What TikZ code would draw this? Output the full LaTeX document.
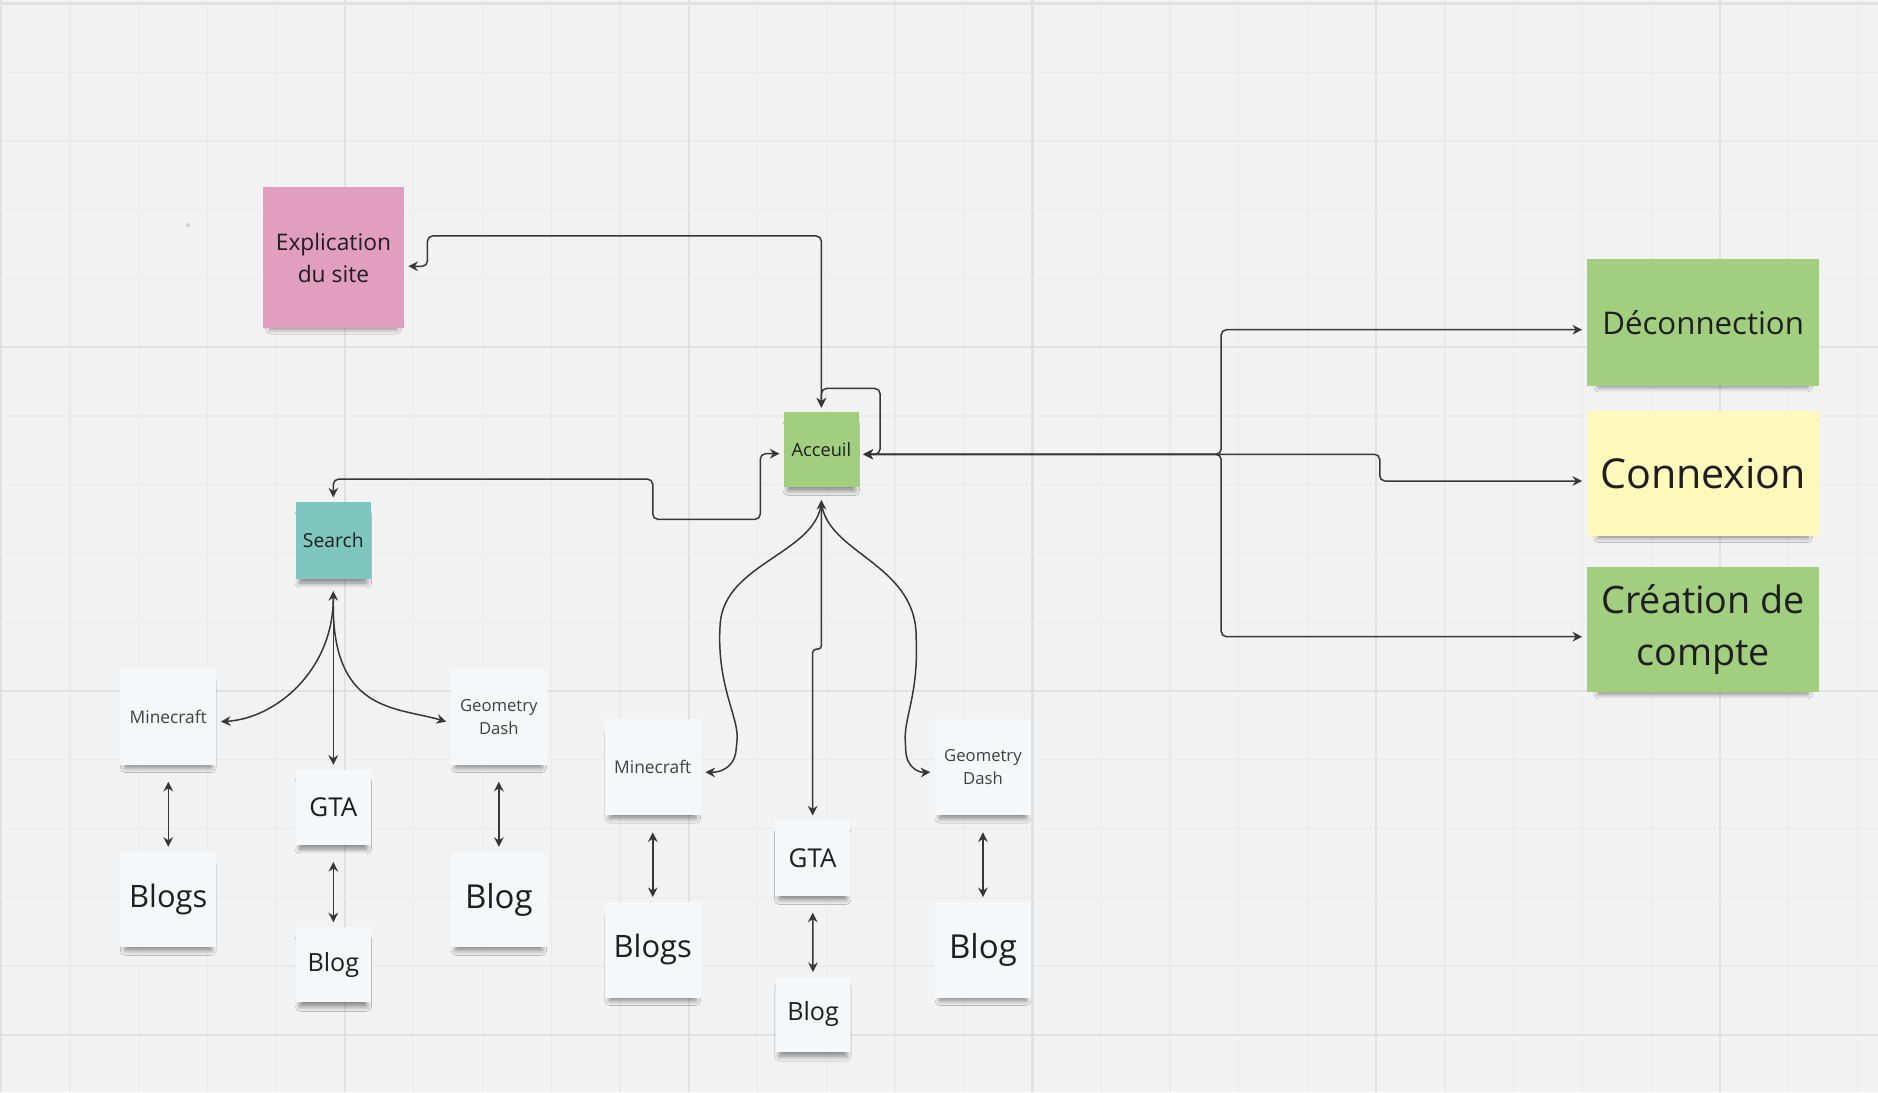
\documentclass[tikz,border=0pt]{standalone}
\usepackage{fontspec}
\setmainfont{Open Sans}
\usetikzlibrary{arrows.meta,calc,shadows.blur}
\definecolor{bgcol}{RGB}{242,242,242}
\definecolor{gridminor}{RGB}{234,234,234}
\definecolor{gridmajor}{RGB}{225,225,225}
\definecolor{linecol}{RGB}{55,55,55}
\definecolor{ink}{RGB}{30,30,30}
\definecolor{notepink}{RGB}{225,158,191}
\definecolor{notegreen}{RGB}{162,207,127}
\definecolor{noteteal}{RGB}{127,198,191}
\definecolor{noteyellow}{RGB}{255,248,187}
\definecolor{notewhite}{RGB}{246,247,249}

\begin{document}
\begin{tikzpicture}[x=0.024cm,y=-0.024cm]
        \tikzstyle{note}=[rectangle, inner sep=0pt, outer sep=2.7pt, align=center, text=ink,
          blur shadow={shadow xshift=0pt, shadow yshift=-5pt, shadow scale=0.9, shadow opacity=45, shadow blur radius=3pt, shadow blur steps=8}]
        \tikzstyle{bignote}=[note, fill=notewhite, minimum width=1.92cm, minimum height=1.92cm]
        \tikzstyle{smallnote}=[note, fill=notewhite, minimum width=1.49cm, minimum height=1.51cm]
        \tikzstyle{link}=[draw=linecol, line width=0.85pt, rounded corners=3pt]
        \tikzstyle{arr}=[link, -{Stealth[length=5.5pt,width=5.5pt]}]
        \tikzstyle{dbl}=[link, {Stealth[length=5.5pt,width=5.5pt]}-{Stealth[length=5.5pt,width=5.5pt]}]
        \tikzstyle{vpair}=[dbl, shorten <=7pt]

        \useasboundingbox (0,0) rectangle (1568,912);
        \fill[bgcol] (0,0) rectangle (1568,912);
        \foreach \i in {0,...,27} \draw[gridminor, line width=0.7pt] ({1+57.4*\i},0) -- ({1+57.4*\i},912);
        \foreach \j in {0,...,15} \draw[gridminor, line width=0.7pt] (0,{3+57.4*\j}) -- (1568,{3+57.4*\j});
        \foreach \i in {0,...,5} \draw[gridmajor, line width=1.3pt] ({1+287*\i},0) -- ({1+287*\i},912);
        \foreach \j in {0,...,3} \draw[gridmajor, line width=1.3pt] (0,{3+287*\j}) -- (1568,{3+287*\j});
        \fill[gray!35] (157,188) circle (1.2pt);

        \node[note, fill=notepink, minimum width=2.81cm, minimum height=2.83cm, font=\fontsize{13}{17.8}\selectfont] (exp) at (278.4,215.3) {Explication\\du site};
        \node[note, fill=notegreen, minimum width=1.49cm, minimum height=1.49cm, font=\fontsize{10.4}{13}\selectfont] (acc) at (685.8,375.3) {Acceuil};
        \node[note, fill=noteteal, minimum width=1.49cm, minimum height=1.54cm, font=\fontsize{11}{13}\selectfont] (sea) at (278.3,451.4) {Search};
        \node[note, fill=notegreen, minimum width=4.66cm, minimum height=2.53cm, font=\fontsize{17.8}{22}\selectfont] (dec) at (1422,269.3) {Déconnection};
        \node[note, fill=noteyellow, minimum width=4.66cm, minimum height=2.5cm, font=\fontsize{23.5}{28}\selectfont] (con) at (1422,395.6) {Connexion};
        \node[note, fill=notegreen, minimum width=4.66cm, minimum height=2.52cm, font=\fontsize{21.5}{29.4}\selectfont] (cre) at (1422,525.6) {Création de\\compte};

        \node[bignote, text=ink!85, font=\fontsize{9.9}{12}\selectfont] (mc1) at (140.5,598.5) {Minecraft};
        \node[smallnote, font=\fontsize{14.8}{18}\selectfont] (gta1) at (278.3,674) {GTA};
        \node[bignote, text=ink!85, font=\fontsize{9.5}{13}\selectfont] (gd1) at (416.5,598.5) {Geometry\\Dash};
        \node[bignote, font=\fontsize{17.6}{21}\selectfont] (bl1) at (140.5,751) {Blogs};
        \node[bignote, font=\fontsize{18.8}{22}\selectfont] (bl2) at (416.5,751) {Blog};
        \node[smallnote, font=\fontsize{14.3}{17}\selectfont] (bl3) at (278.3,805.5) {Blog};

        \node[bignote, text=ink!85, font=\fontsize{9.9}{12}\selectfont] (mc2) at (545,640.7) {Minecraft};
        \node[smallnote, font=\fontsize{14.8}{18}\selectfont] (gta2) at (678.5,716.3) {GTA};
        \node[bignote, text=ink!85, font=\fontsize{9.5}{13}\selectfont] (gd2) at (820.7,640.7) {Geometry\\Dash};
        \node[bignote, font=\fontsize{17.6}{21}\selectfont] (bl4) at (545,793) {Blogs};
        \node[smallnote, font=\fontsize{14.3}{17}\selectfont] (bl5) at (678.8,847) {Blog};
        \node[bignote, font=\fontsize{18.8}{22}\selectfont] (bl6) at (820.7,793) {Blog};

        \draw[dbl] ($(exp.east)+(0,7)$) -- ++(16,0) |- (acc.north |- 0,197) -- (acc.north);
        \draw[dbl] ($(acc.east)+(0,4)$) -- ++(14,0) |- ($(acc.north)+(0,-16)$) -- (acc.north);
        \draw[dbl] ($(acc.west)+(0,3.5)$) -- ++(-16,0) |- (545,433.6) |- (sea.north |- 0,400) -- (sea.north);
        \draw[dbl] ($(acc.east)+(0,4)$) -- (1019.6,379.3) |- ($(dec.west)+(0,6)$);
        \draw[dbl] ($(acc.east)+(0,4)$) -- (1152,379.3) |- ($(con.west)+(0,6)$);
        \draw[dbl] ($(acc.east)+(0,4)$) -- (1019.6,379.3) |- ($(cre.west)+(0,6)$);

        \draw[dbl, rounded corners=2pt] ($(acc.south)+(0,7)$) |- (gta2.north |- 0,542) -- (gta2.north);
        \draw[arr] ($(acc.south)+(0,9)$) .. controls (682,462) and (605,470) .. (601,525)
          .. controls (600,575) and (617,600) .. (615,622) .. controls (613,642) and (600,645) .. ($(mc2.east)+(0,4)$);
        \draw[arr] ($(acc.south)+(0,9)$) .. controls (690,462) and (764,470) .. (765,535)
          .. controls (766,580) and (755,600) .. (756,622) .. controls (757,642) and (768,645) .. ($(gd2.west)+(0,4)$);

        \draw[dbl] ($(sea.south)+(0,6)$) -- (gta1.north);
        \draw[arr] ($(sea.south)+(0,12)$) .. controls (278,560) and (230,600) .. ($(mc1.east)+(0,4)$);
        \draw[arr] ($(sea.south)+(0,12)$) .. controls (276,595) and (330,590) .. ($(gd1.west)+(0,4)$);

        \draw[vpair] (mc1.south) -- (bl1.north);
        \draw[vpair] (gta1.south) -- (bl3.north);
        \draw[vpair] (gd1.south) -- (bl2.north);
        \draw[vpair] (mc2.south) -- (bl4.north);
        \draw[vpair] (gta2.south) -- (bl5.north);
        \draw[vpair] (gd2.south) -- (bl6.north);
\end{tikzpicture}
\end{document}
